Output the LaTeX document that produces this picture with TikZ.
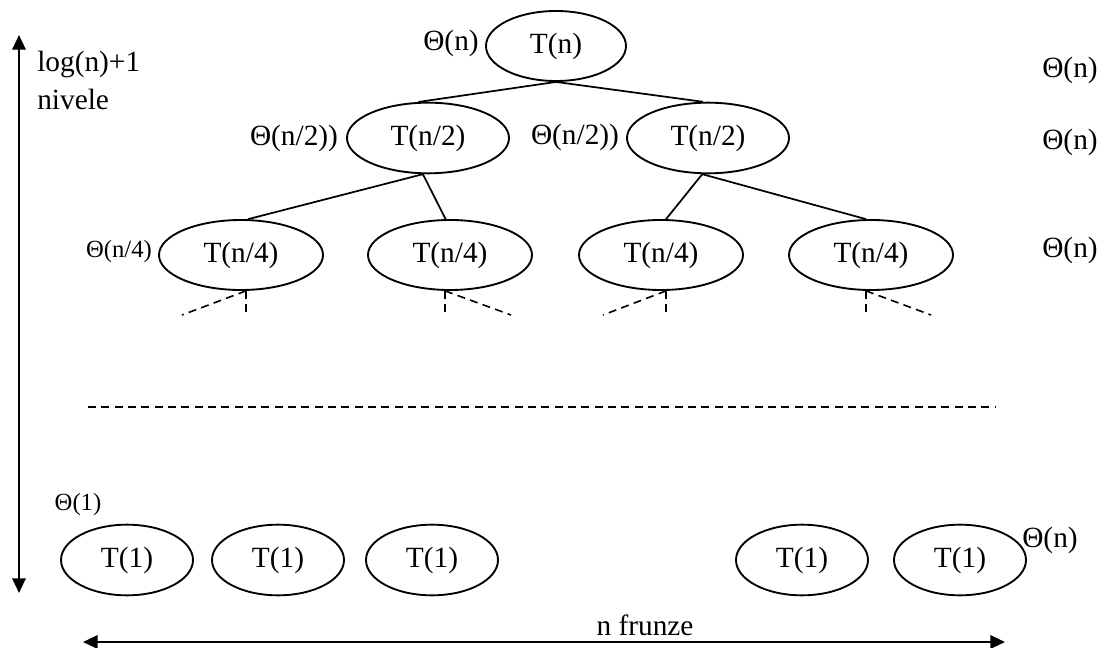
\documentclass[tikz,border=0pt]{standalone}
\usepackage{fontspec}
\setmainfont{Liberation Serif}
\usetikzlibrary{shapes.geometric,arrows.meta}
\begin{document}
\begin{tikzpicture}[x=0.75pt,y=-0.75pt,
  ell/.style={draw, ellipse, line width=1.4pt, inner sep=0pt, font=\fontsize{22}{26}\selectfont},
  rootell/.style={ell, minimum width=105pt, minimum height=52.5pt},
  midell/.style={ell, minimum width=121.5pt, minimum height=53pt},
  lowell/.style={ell, minimum width=123pt, minimum height=52.5pt},
  leafell/.style={ell, minimum width=99pt, minimum height=53pt},
  lbl/.style={inner sep=0pt, font=\fontsize{22}{26}\selectfont},
  smalllbl/.style={inner sep=0pt, font=\fontsize{18.5}{22}\selectfont},
  edge/.style={line width=1.3pt},
  dashedge/.style={line width=1.2pt, dash pattern=on 6pt off 4pt},
  arr/.style={line width=1.6pt, {Triangle[length=11pt,width=10pt]}-{Triangle[length=11pt,width=10pt]}}
]
\useasboundingbox (0,0) rectangle (1106,648);

% tree nodes
\node[rootell] (r) at (556,46) {T(n)};
\node[midell] (a) at (428,138) {T(n/2)};
\node[midell] (b) at (708,138) {T(n/2)};
\node[lowell] (c1) at (241,255) {T(n/4)};
\node[lowell] (c2) at (450,255) {T(n/4)};
\node[lowell] (c3) at (661,255) {T(n/4)};
\node[lowell] (c4) at (871,255) {T(n/4)};
\node[leafell] (f1) at (127,560) {T(1)};
\node[leafell] (f2) at (278,560) {T(1)};
\node[leafell] (f3) at (432,560) {T(1)};
\node[leafell] (f4) at (802,560) {T(1)};
\node[leafell] (f5) at (960,560) {T(1)};

% edges
\draw[edge] (r.south) -- (a.105);
\draw[edge] (r.south) -- (b.98);
\draw[edge] (a.262) -- (c1.79);
\draw[edge] (a.262) -- (c2.97);
\draw[edge] (b.261) -- (c3.82);
\draw[edge] (b.261) -- (c4.98);

% dashed stubs
\coordinate (d1d) at (182,315);
\coordinate (d2d) at (511,315);
\coordinate (d3d) at (603,315);
\coordinate (d4d) at (931,315);
\draw[dashedge] (c1.278) -- ++(0,22);
\draw[dashedge] (c1.278) -- (d1d);
\draw[dashedge] (c2.262) -- ++(0,22);
\draw[dashedge] (c2.262) -- (d2d);
\draw[dashedge] (c3.278) -- ++(0,22);
\draw[dashedge] (c3.278) -- (d3d);
\draw[dashedge] (c4.262) -- ++(0,22);
\draw[dashedge] (c4.262) -- (d4d);

% long dashed line
\coordinate (hl) at (88,407);
\coordinate (hr) at (995,407);
\draw[dashedge] (hl) -- (hr);

% labels left of nodes
\node[lbl] (t0) at (451,43) {Θ(n)};
\node[lbl] (t1) at (294,138) {Θ(n/2))};
\node[lbl] (t2) at (575,137) {Θ(n/2))};
\node[smalllbl] (t3) at (119,252) {Θ(n/4)};
\node[smalllbl] (t4) at (78,505) {Θ(1)};

% right labels
\node[lbl] (s0) at (1070,70) {Θ(n)};
\node[lbl] (s1) at (1070,142) {Θ(n)};
\node[lbl] (s2) at (1070,250) {Θ(n)};
\node[lbl] (s3) at (1050,540) {Θ(n)};

% vertical arrow
\coordinate (vt) at (19,35);
\coordinate (vb) at (19,593);
\draw[arr] (vt) -- (vb);
\node[lbl, anchor=west] (lg) at (37,64) {log(n)+1};
\node[lbl, anchor=west] (nv) at (37,99) {nivele};

% horizontal arrow
\coordinate (hal) at (83,642);
\coordinate (har) at (1005,642);
\draw[arr] (hal) -- (har);
\node[lbl] (nf) at (645,625) {n frunze};
\end{tikzpicture}
\end{document}
